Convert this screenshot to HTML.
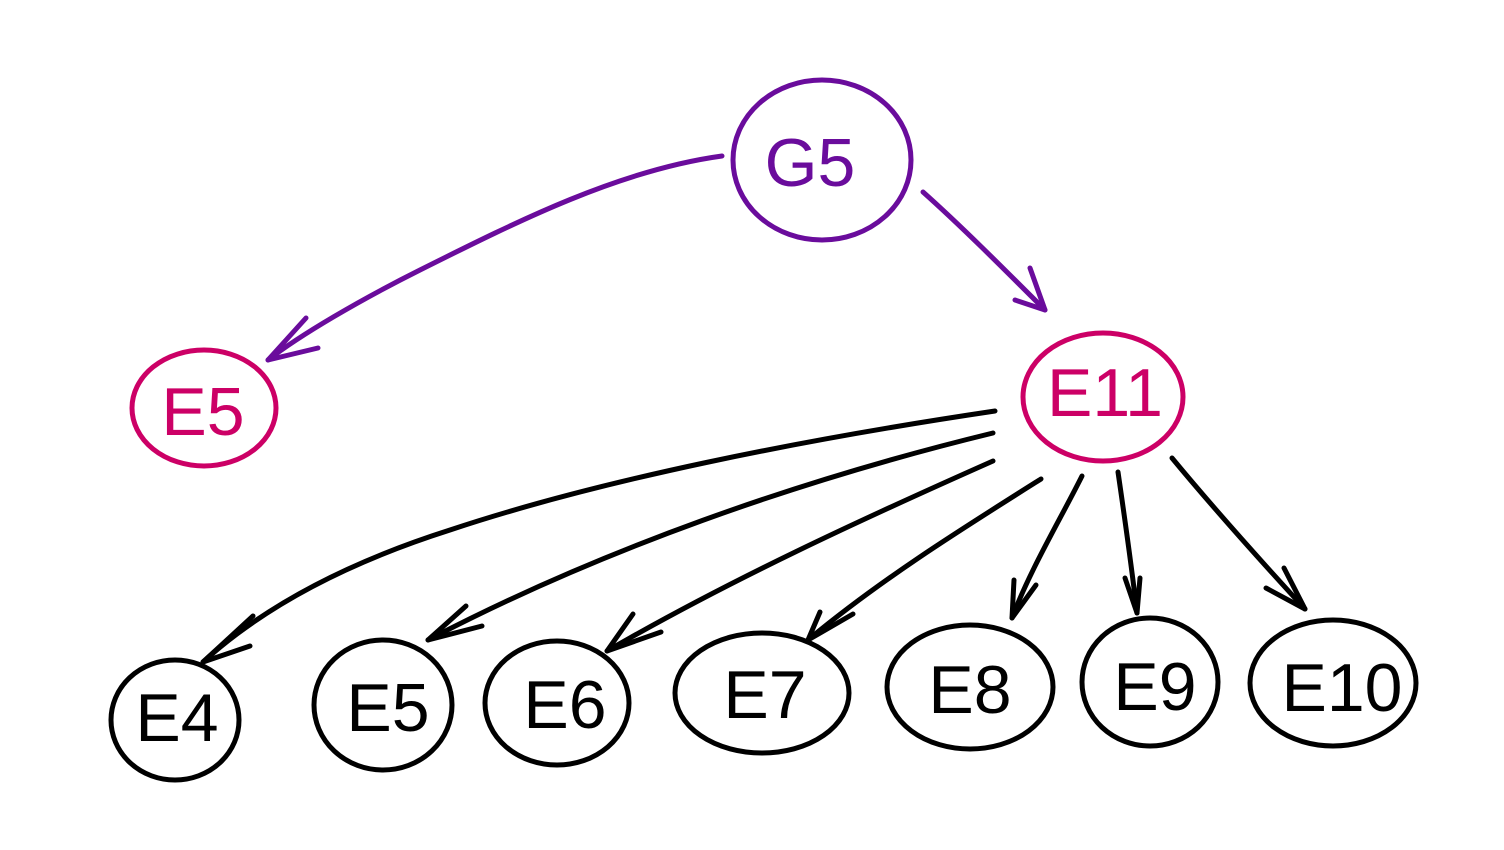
<!DOCTYPE html>
<html><head><meta charset="utf-8"><style>
html,body{margin:0;padding:0;background:#fff;}
svg{display:block;}
text{font-family:"Liberation Sans",sans-serif;font-size:68px;text-anchor:middle;dominant-baseline:central;}
</style></head><body>
<svg width="1504" height="850" viewBox="0 0 1504 850" xmlns="http://www.w3.org/2000/svg">
<g fill="none" stroke-width="5" stroke-linecap="round" stroke-linejoin="round">
  <!-- purple -->
  <g stroke="#6a0c9c">
    <ellipse cx="822" cy="160" rx="89" ry="80"/>
    <path d="M722 156 C620 170 520 220 420 270 C360 300 300 335 268 360"/>
    <path d="M306 318 L268 360 L318 348"/>
    <path d="M923 192 C960 225 1000 265 1045 310"/>
    <path d="M1030 268 L1045 310 L1015 300"/>
  </g>
  <!-- magenta -->
  <g stroke="#cc0066">
    <ellipse cx="204" cy="408" rx="72" ry="58"/>
    <ellipse cx="1103" cy="397" rx="80" ry="64"/>
  </g>
  <!-- black -->
  <g stroke="#000">
    <ellipse cx="175" cy="720" rx="64" ry="60"/>
    <ellipse cx="383" cy="705" rx="69" ry="65"/>
    <ellipse cx="557" cy="703" rx="72" ry="62"/>
    <ellipse cx="762" cy="693" rx="87" ry="60"/>
    <ellipse cx="970" cy="687" rx="83" ry="62"/>
    <ellipse cx="1150" cy="682" rx="68" ry="64"/>
    <ellipse cx="1333" cy="683" rx="83" ry="63"/>

    <path d="M995 411 C800 440 600 480 450 530 C340 565 260 610 203 662"/>
    <path d="M253 616 L203 662 L250 646"/>
    <path d="M993 433 C800 480 600 550 428 640"/>
    <path d="M466 606 L428 640 L482 626"/>
    <path d="M993 461 C860 520 730 580 607 651"/>
    <path d="M633 614 L607 651 L661 632"/>
    <path d="M1041 479 C960 530 880 580 808 640"/>
    <path d="M820 612 L808 640 L853 614"/>
    <path d="M1082 476 C1060 520 1030 570 1012 618"/>
    <path d="M1014 580 L1012 618 L1036 585"/>
    <path d="M1118 472 C1125 520 1132 570 1137 613"/>
    <path d="M1125 578 L1137 613 L1140 578"/>
    <path d="M1172 458 C1215 510 1260 560 1305 609"/>
    <path d="M1284 568 L1305 609 L1266 588"/>
  </g>
</g>
<text x="810" y="163" fill="#6a0c9c">G5</text>
<text x="203" y="412" fill="#cc0066">E5</text>
<text x="1105" y="393" fill="#cc0066">E11</text>
<g fill="#000">
  <text x="177" y="718">E4</text>
  <text x="388" y="708">E5</text>
  <text x="565" y="705">E6</text>
  <text x="765" y="695">E7</text>
  <text x="970" y="690">E8</text>
  <text x="1155" y="687">E9</text>
  <text x="1342" y="688">E10</text>
</g>
</svg>
</body></html>
